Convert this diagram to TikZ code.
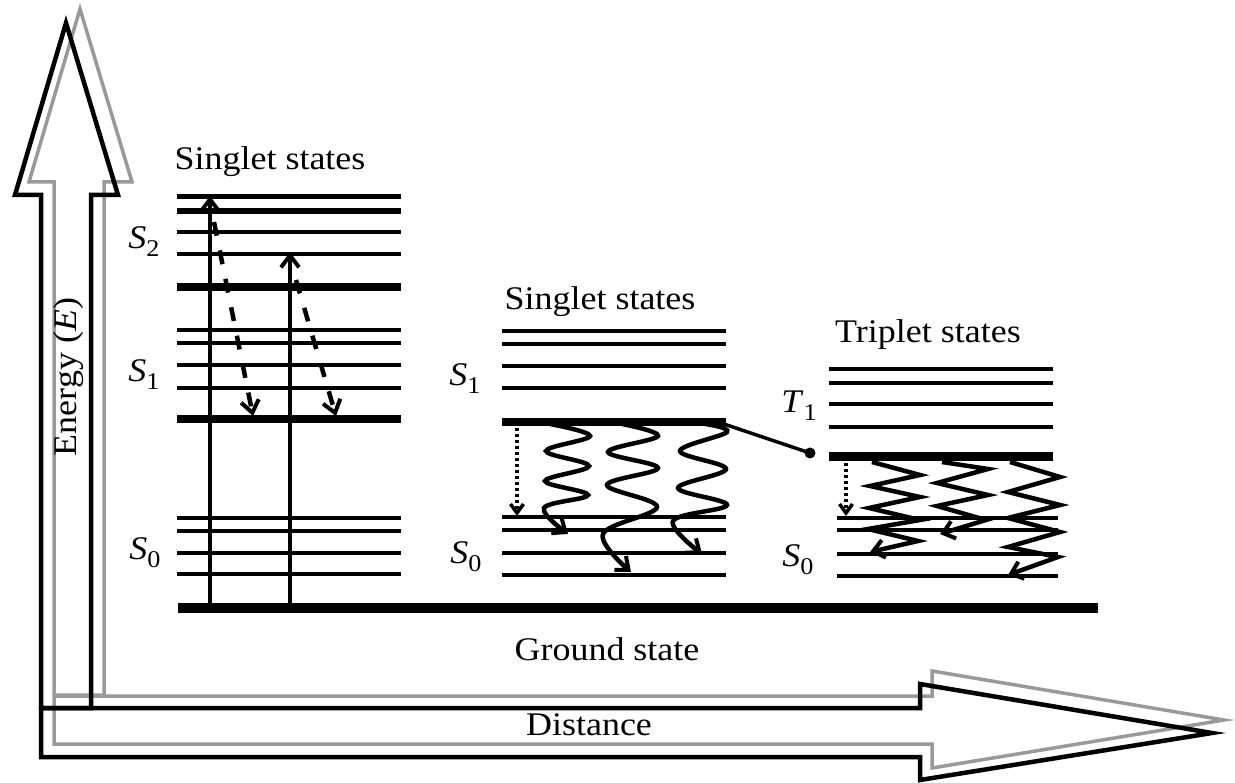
\documentclass[tikz,border=0pt]{standalone}
\usepackage{fontspec}
\setmainfont{Liberation Serif}[FakeStretch=1.09]
\usetikzlibrary{arrows.meta}
\newcommand{\lvlab}[2]{\textit{#1}\raisebox{-8pt}{\fontsize{24}{24}\selectfont #2}}
\begin{document}
\begin{tikzpicture}[x=1pt,y=-1pt,
  outl/.style={line width=4.5pt, line join=miter},
  grayoutl/.style={line width=3.5pt, draw=black!40, line join=miter},
  txt/.style={font=\fontsize{33}{38}\selectfont, inner sep=0pt},
  exc/.style={line width=4.5pt, -{Straight Barb[length=12pt,width=18pt,line width=4pt]}},
  dsh/.style={line width=4.5pt, dash pattern=on 14pt off 15pt, -{Straight Barb[length=12pt,width=18pt,line width=4pt]}},
  dotarr/.style={line width=3.5pt, dash pattern=on 3.5pt off 2.5pt, -{Straight Barb[length=9pt,width=13pt,line width=3.5pt]}},
  wavy/.style={line width=4.5pt, -{Straight Barb[length=11pt,width=18pt,line width=4pt]}},
  zz/.style={line width=4.5pt, line join=miter, -{Straight Barb[length=11pt,width=18pt,line width=4pt]}}
]
\useasboundingbox (0,0) rectangle (1235,783);

% axes (gray shadow, then black)
\draw[grayoutl] (54,695) -- (54,182) -- (29,182) -- (80,9) -- (132,182) -- (104,182) -- (104,695) -- cycle;
\draw[grayoutl] (54,696) -- (932,696) -- (932,671) -- (1224,720) -- (932,768) -- (932,744) -- (54,744) -- cycle;
\draw[outl] (41,708) -- (41,195) -- (15,195) -- (66,23) -- (118,195) -- (91,195) -- (91,708) -- cycle;
\draw[outl] (41,708) -- (920,708) -- (920,684) -- (1212,733) -- (920,780) -- (920,757) -- (41,757) -- cycle;

% left panel levels
\foreach \y/\w in {197/5, 211/5.5, 232/4, 254/4, 287/8, 330/4.5, 343/4.5, 365/4, 388/4.5, 419/8, 518/4, 531/4, 553/4, 574/4}
  \draw[line width=\w pt] (177,\y) -- (401,\y);
% ground
\draw[line width=10pt] (178,608) -- (1098,608);

% middle panel levels
\foreach \y/\w in {331/4.5, 344/4.5, 366/4.5, 388/4.5, 422/8, 517/4, 530/4, 553/4, 575/4}
  \draw[line width=\w pt] (502,\y) -- (726,\y);

% right panel levels
\foreach \y/\w in {369/4.5, 383/4.5, 404/4.5, 427/4.5, 457/9}
  \draw[line width=\w pt] (829,\y) -- (1053,\y);
\foreach \y/\w in {518/4, 530/4, 554/4, 576/4}
  \draw[line width=\w pt] (837,\y) -- (1058,\y);

% left panel arrows
\coordinate (a1s) at (210,604); \coordinate (a1e) at (210,196);
\coordinate (a2s) at (290,604); \coordinate (a2e) at (290,252);
\draw[exc] (a1s) -- (a1e);
\draw[exc] (a2s) -- (a2e);
\coordinate (d1s) at (214,222); \coordinate (d1e) at (253,416);
\coordinate (d2s) at (296,280); \coordinate (d2e) at (336,416);
\draw[dsh] (d1s) -- (d1e);
\draw[dsh] (d2s) -- (d2e);

% middle panel
\coordinate (m1s) at (517,428); \coordinate (m1e) at (517,516);
\draw[dotarr] (m1s) -- (m1e);
\draw[wavy] plot[smooth, tension=0.6] coordinates {(550,424) (590,436) (546,451) (589,466) (545,481) (588,495) (544,508) (568,534)};
\draw[wavy] plot[smooth, tension=0.6] coordinates {(622,424) (658,436) (608,452) (658,468) (607,485) (657,507) (603,534) (631,572)};
\draw[wavy] plot[smooth, tension=0.6] coordinates {(705,424) (727,432) (680,451) (726,469) (678,488) (727,505) (673,521) (702,554)};

% intersystem crossing connector
\coordinate (c1) at (712,420);
\node[circle, fill, inner sep=0pt, minimum size=11pt] (dot) at (810,453) {};
\draw[line width=3.5pt] (c1) -- (dot.center);

% right panel
\coordinate (r1s) at (846,463); \coordinate (r1e) at (846,516);
\draw[dotarr] (r1s) -- (r1e);
\draw[zz] (872,462) -- (920,475) -- (870,486) -- (920,497) -- (869,508) -- (920,520) -- (868,529) -- (918,541) -- (870,552);
\draw[zz] (942,462) -- (988,469) -- (937,483) -- (988,495) -- (937,506) -- (986,520) -- (940,534);
\draw[zz] (1010,462) -- (1060,477) -- (1008,492) -- (1060,505) -- (1008,518) -- (1060,532) -- (1008,547) -- (1058,557) -- (1008,575);

% texts
\node[txt, anchor=base] (st1) at (270,170) {Singlet states};
\node[txt, anchor=base] (st2) at (600,310) {Singlet states};
\node[txt, anchor=base] (tt) at (928,343) {Triplet states};
\node[txt, anchor=base] (gs) at (607,660) {Ground state};
\node[txt, anchor=base] (dist) at (589,735) {Distance};
\node[txt, anchor=base, rotate=90] (en) at (76,377) {Energy (\textit{E})};

% level labels
\node[txt] (ls2) at (144,242) {\lvlab{S}{2}};
\node[txt] (ls1) at (144,375) {\lvlab{S}{1}};
\node[txt] (ls0) at (145,553) {\lvlab{S}{0}};
\node[txt] (ms1) at (465,379) {\lvlab{S}{1}};
\node[txt] (ms0) at (466,557) {\lvlab{S}{0}};
\node[txt] (rt1) at (799,406) {\lvlab{T}{1}};
\node[txt] (rs0) at (798,560) {\lvlab{S}{0}};
\end{tikzpicture}
\end{document}
